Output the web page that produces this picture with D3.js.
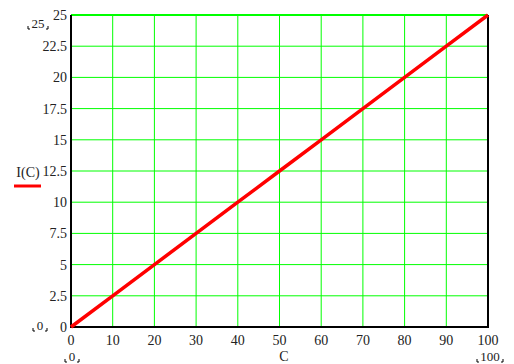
<!DOCTYPE html>
<html>
<head>
<meta charset="utf-8">
<script src="https://d3js.org/d3.v7.min.js"></script>
<style>
  body { margin: 0; background: #fff; }
  text { font-family: 'Liberation Serif', 'Times New Roman', serif; font-size: 14px; fill: #222; }
</style>
</head>
<body>
<script>
// values
var cValues = [0, 10, 20, 30, 40, 50, 60, 70, 80, 90, 100];
var iValues = [0, 2.5, 5, 7.5, 10, 12.5, 15, 17.5, 20, 22.5, 25];
var xTicks = [0, 10, 20, 30, 40, 50, 60, 70, 80, 90, 100];
var yTicks = [0, 2.5, 5, 7.5, 10, 12.5, 15, 17.5, 20, 22.5, 25];

var w = 514, h = 364;
var plotL = 71, plotR = 488, plotT = 15, plotB = 327;

var svg = d3.select('body').append('svg')
  .attr('width', w)
  .attr('height', h);

var x = d3.scaleLinear().domain([0, 100]).range([plotL, plotR]);
var y = d3.scaleLinear().domain([0, 25]).range([plotB, plotT]);

// grid
svg.append('g').selectAll('line')
  .data(xTicks.slice(1, -1))
  .enter().append('line')
    .attr('x1', function(d) { return x(d); })
    .attr('x2', function(d) { return x(d); })
    .attr('y1', plotT).attr('y2', plotB)
    .attr('stroke', '#00ff00').attr('stroke-width', 1);

svg.append('g').selectAll('line')
  .data(yTicks.slice(1))
  .enter().append('line')
    .attr('x1', plotL).attr('x2', plotR)
    .attr('y1', function(d) { return y(d); })
    .attr('y2', function(d) { return y(d); })
    .attr('stroke', '#00ff00').attr('stroke-width', function(d) { return d === 25 ? 2 : 1; });

// frame (left, bottom, right)
svg.append('path')
  .attr('d', 'M' + plotL + ',' + plotT + 'V' + plotB + 'H' + plotR + 'V' + plotT)
  .attr('fill', 'none')
  .attr('stroke', '#000')
  .attr('stroke-width', 2);

// tick labels
svg.append('g').selectAll('text')
  .data(xTicks)
  .enter().append('text')
    .attr('x', function(d) { return x(d); })
    .attr('y', 345)
    .attr('text-anchor', 'middle')
    .text(function(d) { return d; });

svg.append('g').selectAll('text')
  .data(yTicks)
  .enter().append('text')
    .attr('x', 67)
    .attr('y', function(d) { return y(d) + 5; })
    .attr('text-anchor', 'end')
    .text(function(d) { return d; });

// the trace
var line = d3.line()
  .x(function(d, i) { return x(cValues[i]); })
  .y(function(d) { return y(d); });

svg.append('path')
  .datum(iValues)
  .attr('d', line)
  .attr('fill', 'none')
  .attr('stroke', '#ff0000')
  .attr('stroke-width', 3.5);

// axis names
svg.append('text').attr('x', 284).attr('y', 361).attr('text-anchor', 'middle').text('C');
svg.append('text').attr('x', 28).attr('y', 177).attr('text-anchor', 'middle').text('I(C)');
svg.append('line')
  .attr('x1', 14).attr('x2', 41).attr('y1', 186).attr('y2', 186)
  .attr('stroke', '#ff0000').attr('stroke-width', 3);

// limit markers
var limits = [
  { t: '25', x: 38, y: 28 },
  { t: '0', x: 40, y: 330 },
  { t: '0', x: 72, y: 361 },
  { t: '100', x: 490, y: 361 }
];

var lim = svg.append('g').selectAll('g')
  .data(limits)
  .enter().append('g');

lim.append('text')
  .attr('x', function(d) { return d.x; })
  .attr('y', function(d) { return d.y; })
  .attr('text-anchor', 'middle')
  .style('font-size', '13px')
  .text(function(d) { return d.t; });

lim.append('path')
  .attr('d', function(d) {
    var half = d.t.length * 3 + 4;
    var l = d.x - half, r = d.x + half, b = d.y + 1;
    return 'M' + l + ',' + (b - 3) + 'V' + b + 'H' + (l + 2) +
      'M' + r + ',' + (b - 3) + 'V' + b + 'H' + (r - 2);
  })
  .attr('fill', 'none')
  .attr('stroke', '#000')
  .attr('stroke-width', 1);
</script>
</body>
</html>
